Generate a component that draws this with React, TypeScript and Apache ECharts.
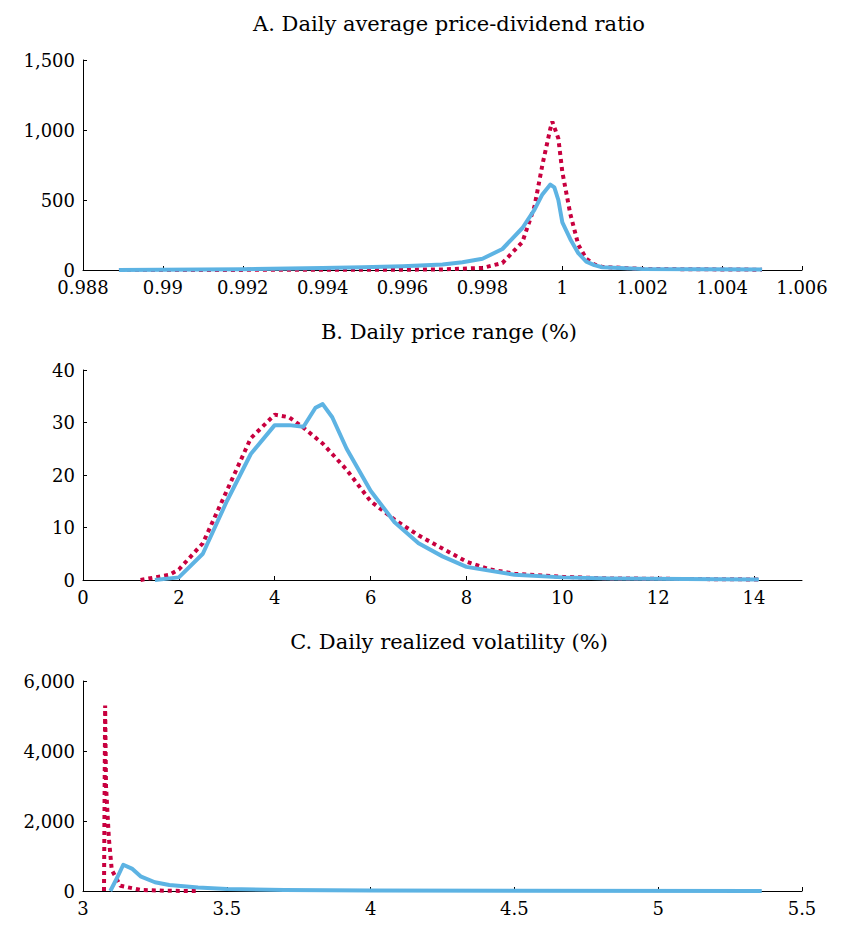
import React, { useEffect, useRef } from "react";
import * as echarts from "echarts";

const titles = ["A. Daily average price-dividend ratio", "B. Daily price range (%)", "C. Daily realized volatility (%)"];

const aBlue: [number, number][] = [[0.9889,0],[0.992,5],[0.994,14],[0.995,20],[0.996,27],[0.997,40],[0.9975,55],[0.998,80],[0.9985,150],[0.999,300],[0.9993,430],[0.9995,540],[0.9997,610],[0.9998,590],[0.9999,500],[1.0,340],[1.0002,220],[1.0004,120],[1.0006,60],[1.0008,35],[1.001,20],[1.002,8],[1.005,3]];
const aRed: [number, number][] = [[0.9889,0],[0.996,2],[0.997,4],[0.998,15],[0.9985,50],[0.999,200],[0.9993,450],[0.9995,750],[0.9997,1010],[0.99975,1060],[0.9999,940],[1.0,700],[1.0002,400],[1.0004,180],[1.0006,80],[1.0008,40],[1.001,22],[1.002,8],[1.005,2]];
const bBlue: [number, number][] = [[1.5,0],[2,0.5],[2.5,5],[3,15],[3.5,24],[4,29.5],[4.3,29.5],[4.6,29.2],[4.85,32.8],[5,33.5],[5.2,31],[5.5,25],[6,17],[6.5,11],[7,7],[7.5,4.5],[8,2.5],[9,1],[10,0.5],[11,0.3],[14.1,0.1]];
const bRed: [number, number][] = [[1.2,0],[1.8,1],[2,2],[2.5,7],[3,17],[3.5,27],[4,31.5],[4.3,31],[4.6,29],[5,26],[5.5,21],[6,15],[6.5,11.5],[7,8.5],[7.5,6],[8,3.5],[8.5,2],[9,1.2],[10,0.6],[11,0.3],[14.1,0.1]];
const cBlue: [number, number][] = [[3.095,0],[3.12,400],[3.14,750],[3.17,640],[3.2,420],[3.25,250],[3.3,170],[3.4,100],[3.5,60],[3.7,30],[4,15],[4.5,5],[5.36,1]];
const cRed: [number, number][] = [[3.073,0],[3.077,5300],[3.08,3000],[3.09,1500],[3.1,600],[3.13,150],[3.2,30],[3.3,5],[3.4,1]];

const xA = { min: 0.988, max: 1.006, interval: 0.002 };
const xB = { min: 0, max: 15, interval: 2 };
const xC = { min: 3, max: 5.5, interval: 0.5 };
const yA = { min: 0, max: 1500, interval: 500 };
const yB = { min: 0, max: 40, interval: 10 };
const yC = { min: 0, max: 6000, interval: 2000 };

const BLUE = "#5DB3E3";
const RED = "#C8003F";
const FONT = "DejaVu Serif";

export default function App() {
  const ref = useRef<HTMLDivElement>(null);
  useEffect(() => {
    const chart = echarts.init(ref.current!, null, { renderer: "svg" });
    const tops = [52, 362, 673];
    const xs = [xA, xB, xC];
    const ys = [yA, yB, yC];
    const data = [[aBlue, aRed], [bBlue, bRed], [cBlue, cRed]];
    const axisCommon = {
      axisLine: { show: true, lineStyle: { color: "#000", width: 1 } },
      axisTick: { show: true, inside: true, length: 4, lineStyle: { color: "#000" } },
      splitLine: { show: false },
      axisLabel: { color: "#000", fontFamily: FONT, fontSize: 18 },
    };
    chart.setOption({
      animation: false,
      title: titles.map((t, i) => ({
        text: t, left: 436, top: [0, 308, 618][i], textAlign: "center",
        textStyle: { fontFamily: FONT, fontSize: 21, fontWeight: "normal", color: "#000" },
      })),
      grid: tops.map((t) => ({ left: 75, right: 34, top: t, height: 210 })),
      xAxis: xs.map((x, i) => ({
        type: "value", gridIndex: i, ...x, ...axisCommon,
        axisLabel: { ...axisCommon.axisLabel, margin: 8, showMaxLabel: i !== 1,
          formatter: (v: number) => String(+v.toFixed(3)) },
      })),
      yAxis: ys.map((y, i) => ({
        type: "value", gridIndex: i, ...y, ...axisCommon,
        axisLabel: { ...axisCommon.axisLabel, margin: 8, formatter: (v: number) => v.toLocaleString("en-US") },
      })),
      series: data.flatMap((pair, i) => [
        { type: "line", xAxisIndex: i, yAxisIndex: i, data: pair[1], showSymbol: false, smooth: false,
          lineStyle: { color: RED, width: 4, type: [4, 4] } },
        { type: "line", xAxisIndex: i, yAxisIndex: i, data: pair[0], showSymbol: false, smooth: false,
          lineStyle: { color: BLUE, width: 4, join: "round" } },
      ]),
    });
    return () => chart.dispose();
  }, []);
  return <div ref={ref} style={{ width: 828, height: 911 }} />;
}
